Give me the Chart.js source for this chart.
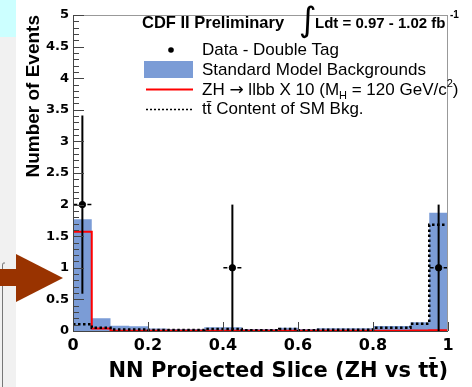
<!DOCTYPE html>
<html>
<head>
<meta charset="utf-8">
<script src="https://cdn.jsdelivr.net/npm/chart.js@4"></script>
<style>
  html, body { margin: 0; padding: 0; background: #fff; }
  #wrap { width: 472px; height: 387px; }
</style>
</head>
<body>
<div id="wrap"><canvas id="nnChart" width="472" height="387"></canvas></div>
<script>
// NN output bins (20 bins of 0.05)
const binEdges = [0, 0.05, 0.1, 0.15, 0.2, 0.25, 0.3, 0.35, 0.4, 0.45, 0.5,
                  0.55, 0.6, 0.65, 0.7, 0.75, 0.8, 0.85, 0.9, 0.95, 1];

// stacked SM background prediction per bin
const smBackground = [1.77, 0.20, 0.085, 0.075, 0.04, 0.03, 0.03, 0.06, 0.06, 0.03,
                      0.03, 0.05, 0.03, 0.045, 0.045, 0.045, 0.08, 0.08, 0.14, 1.87];
// ZH -> llbb x10 signal
const zhSignal = [1.57, 0.04, 0.005, 0.005, 0.005, 0.005, 0.005, 0.005, 0.005, 0.005,
                  0.005, 0.005, 0.005, 0.005, 0.005, 0.005, 0.005, 0.005, 0.008, 0.01];
// ttbar part of the SM background
const ttbarContent = [0.105, 0.05, 0.025, 0.025, 0.015, 0.015, 0.015, 0.03, 0.03, 0.01,
                      0.01, 0.03, 0.01, 0.02, 0.02, 0.02, 0.05, 0.05, 0.115, 1.68];

// double tag data
const dataX = [0.025, 0.425, 0.975];
const dataY = [2, 1, 1];
const dataErr = [1.41, 1, 1];
const binHalfWidth = 0.025;

const blue = '#7b9cd6';

function steps(values) {
  const pts = [];
  values.forEach((v, i) => {
    pts.push({ x: binEdges[i], y: v });
    pts.push({ x: binEdges[i + 1], y: v });
  });
  return pts;
}

// "1.0" -> "1", "0.5" stays
const tickText = (v) => String(+v.toFixed(2));

// slide background bits on the left
const slideBg = {
  id: 'slideBg',
  beforeDraw(chart) {
    const ctx = chart.ctx;
    ctx.save();
    ctx.fillStyle = '#fff';
    ctx.fillRect(0, 0, chart.width, chart.height);
    ctx.fillStyle = '#f1f1f1';
    ctx.fillRect(0, 0, 16, chart.height);
    ctx.fillStyle = '#ccffff';
    ctx.fillRect(0, 0, 16, 37);
    ctx.strokeStyle = '#777';
    ctx.lineWidth = 1;
    ctx.beginPath();
    ctx.moveTo(2.5, chart.height);
    ctx.lineTo(2.5, 265);
    ctx.quadraticCurveTo(2.5, 262, 5, 263);
    ctx.stroke();
    // arrow
    ctx.fillStyle = '#993300';
    ctx.fillRect(0, 269, 17, 17);
    ctx.beginPath();
    ctx.moveTo(16, 254);
    ctx.lineTo(63, 278);
    ctx.lineTo(16, 302);
    ctx.closePath();
    ctx.fill();
    ctx.restore();
  }
};

// ROOT-style frame, inward ticks and error bars
const rootFrame = {
  id: 'rootFrame',
  afterDatasetsDraw(chart) {
    const ctx = chart.ctx;
    const xs = chart.scales.x, ys = chart.scales.y;
    const a = chart.chartArea;
    ctx.save();

    // error bars
    ctx.strokeStyle = '#000';
    dataX.forEach((x, i) => {
      const px = xs.getPixelForValue(x);
      const py = ys.getPixelForValue(dataY[i]);
      ctx.lineWidth = 2;
      ctx.setLineDash([]);
      ctx.beginPath();
      ctx.moveTo(px, ys.getPixelForValue(dataY[i] + dataErr[i]));
      ctx.lineTo(px, ys.getPixelForValue(Math.max(0, dataY[i] - dataErr[i])));
      ctx.stroke();
      ctx.lineWidth = 1.5;
      ctx.setLineDash([4, 2]);
      ctx.beginPath();
      ctx.moveTo(px - 5, py);
      ctx.lineTo(xs.getPixelForValue(x - binHalfWidth), py);
      ctx.moveTo(px + 5, py);
      ctx.lineTo(xs.getPixelForValue(x + binHalfWidth), py);
      ctx.stroke();
    });
    ctx.setLineDash([]);

    // frame
    ctx.lineWidth = 1;
    ctx.strokeStyle = '#999';
    ctx.beginPath();
    ctx.moveTo(a.left, a.top + 0.5);
    ctx.lineTo(a.right, a.top + 0.5);
    ctx.moveTo(a.right - 0.5, a.top);
    ctx.lineTo(a.right - 0.5, a.bottom);
    ctx.stroke();
    ctx.strokeStyle = '#444';
    ctx.beginPath();
    ctx.moveTo(a.left + 0.5, a.top);
    ctx.lineTo(a.left + 0.5, a.bottom + 1);
    ctx.moveTo(a.left, a.bottom + 0.5);
    ctx.lineTo(a.right, a.bottom + 0.5);
    ctx.stroke();

    // y ticks: major every 0.5, minor every 0.1
    ctx.beginPath();
    for (let k = 0; k <= 50; k++) {
      const py = Math.round(ys.getPixelForValue(k / 10)) + 0.5;
      const len = k % 5 === 0 ? 11 : 6;
      ctx.moveTo(a.left, py);
      ctx.lineTo(a.left + len, py);
    }
    // x ticks every 0.2
    xs.ticks.forEach(t => {
      const px = Math.round(xs.getPixelForValue(t.value)) + 0.5;
      ctx.moveTo(px, a.bottom);
      ctx.lineTo(px, a.bottom - 9);
    });
    ctx.stroke();
    ctx.restore();
  }
};

// legend and header text
const rootLegend = {
  id: 'rootLegend',
  afterDraw(chart) {
    const ctx = chart.ctx;
    ctx.save();
    ctx.fillStyle = '#000';
    ctx.textBaseline = 'alphabetic';
    ctx.textAlign = 'left';

    ctx.font = 'bold 16.5px "Liberation Sans"';
    ctx.fillText('CDF II Preliminary', 142, 28);
    ctx.font = '34px "DejaVu Sans"';
    ctx.fillText('\u222B', 299, 31);
    ctx.font = 'bold 15px "Liberation Sans"';
    ctx.fillText('Ldt = 0.97 - 1.02 fb', 315, 28);
    ctx.font = 'bold 10px "Liberation Sans"';
    ctx.fillText('-1', 450, 18);

    // symbols
    ctx.beginPath();
    ctx.arc(171, 50, 2.8, 0, Math.PI * 2);
    ctx.fill();
    ctx.fillStyle = blue;
    ctx.fillRect(144, 61, 49, 17);
    ctx.strokeStyle = '#ff0000';
    ctx.lineWidth = 2;
    ctx.beginPath();
    ctx.moveTo(146, 89.5);
    ctx.lineTo(193, 89.5);
    ctx.stroke();
    ctx.strokeStyle = '#000';
    ctx.lineWidth = 1.5;
    ctx.setLineDash([2, 2]);
    ctx.beginPath();
    ctx.moveTo(146, 109.5);
    ctx.lineTo(193, 109.5);
    ctx.stroke();
    ctx.setLineDash([]);

    ctx.fillStyle = '#000';
    ctx.font = '17px "Liberation Sans"';
    ctx.fillText('Data - Double Tag', 202, 55);
    ctx.fillText('Standard Model Backgrounds', 202, 75);

    let x = 202;
    const put = (txt, font, dy) => {
      ctx.font = font;
      ctx.fillText(txt, x, 94.5 + dy);
      x += ctx.measureText(txt).width;
    };
    put('ZH ', '17px "Liberation Sans"', 0);
    put('\u2192', '17px "DejaVu Sans"', 0);
    put(' llbb X 10 (M', '17px "Liberation Sans"', 0);
    put('H', '11px "Liberation Sans"', 4);
    put(' = 120 GeV/c', '17px "Liberation Sans"', 0);
    put('2', '11px "Liberation Sans"', -8);
    put(')', '17px "Liberation Sans"', 0);

    ctx.font = '17px "Liberation Sans"';
    ctx.fillText('tt\u0304 Content of SM Bkg.', 202, 114);
    ctx.restore();
  }
};

new Chart(document.getElementById('nnChart'), {
  type: 'line',
  data: {
    datasets: [
      {
        label: 'Standard Model Backgrounds',
        data: steps(smBackground),
        fill: 'origin',
        backgroundColor: blue,
        borderColor: 'rgba(0,0,0,0)',
        borderWidth: 1,
        pointRadius: 0,
        order: 3
      },
      {
        label: 'ZH -> llbb X 10',
        data: steps(zhSignal),
        fill: false,
        borderColor: '#ff0000',
        borderWidth: 2,
        pointRadius: 0,
        order: 2
      },
      {
        label: 'tt Content of SM Bkg.',
        data: steps(ttbarContent),
        fill: false,
        borderColor: '#000',
        borderWidth: 2.5,
        borderDash: [2.5, 2.5],
        pointRadius: 0,
        order: 1
      },
      {
        type: 'scatter',
        label: 'Data - Double Tag',
        data: dataX.map((x, i) => ({ x: x, y: dataY[i] })),
        backgroundColor: '#000',
        borderColor: '#000',
        pointRadius: 3.2,
        order: 0
      }
    ]
  },
  options: {
    responsive: false,
    animation: false,
    devicePixelRatio: 1,
    layout: { padding: { top: 15, right: 24, left: 0, bottom: 0 } },
    plugins: {
      legend: { display: false },
      tooltip: { enabled: false }
    },
    scales: {
      x: {
        type: 'linear',
        min: 0,
        max: 1,
        offset: false,
        ticks: {
          stepSize: 0.2,
          color: '#000',
          padding: 5,
          maxRotation: 0,
          callback: tickText,
          font: { family: 'DejaVu Sans', weight: 'bold', size: 16 }
        },
        grid: { drawOnChartArea: false, drawTicks: false },
        border: { display: false },
        title: {
          display: true,
          text: 'NN Projected Slice (ZH vs tt\u0304)',
          align: 'end',
          color: '#000',
          font: { family: 'DejaVu Sans', weight: 'bold', size: 21 },
          padding: { top: 0, bottom: 3 }
        },
        afterFit: (s) => { s.height = 56; }
      },
      y: {
        min: 0,
        max: 5,
        ticks: {
          stepSize: 0.5,
          color: '#000',
          padding: 4,
          callback: tickText,
          font: { family: 'DejaVu Sans', weight: 'bold', size: 13 }
        },
        grid: { drawOnChartArea: false, drawTicks: false },
        border: { display: false },
        title: {
          display: true,
          text: 'Number of Events',
          align: 'end',
          color: '#000',
          font: { family: 'Liberation Sans', weight: 'bold', size: 19 },
          padding: { top: 22, bottom: 0 }
        },
        afterFit: (s) => { s.width = 73; }
      }
    }
  },
  plugins: [slideBg, rootFrame, rootLegend]
});
</script>
</body>
</html>
